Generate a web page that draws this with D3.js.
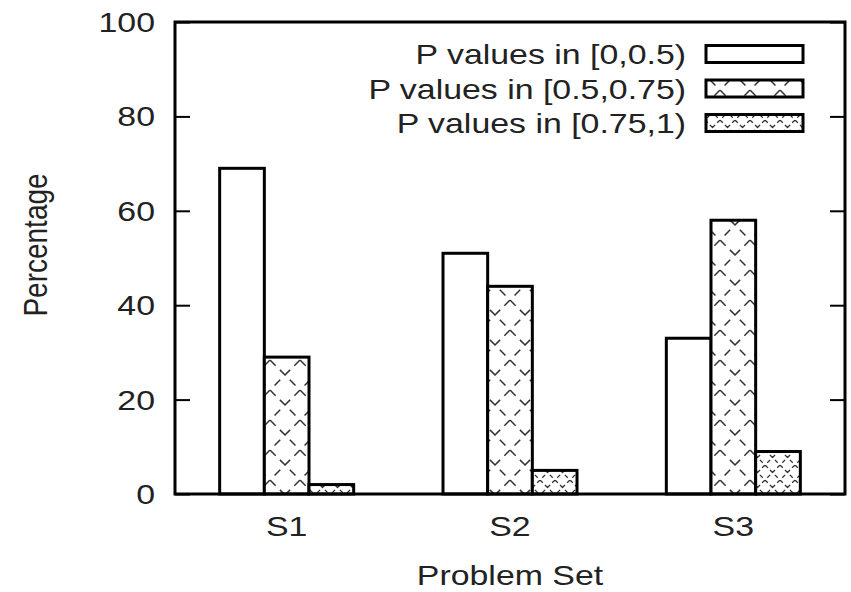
<!DOCTYPE html>
<html><head><meta charset="utf-8">
<script src="https://cdn.jsdelivr.net/npm/d3@7"></script>
<style>body{margin:0;background:#fff}</style>
</head><body>
<script>
const categories = ["S1","S2","S3"];
const seriesNames = ["P values in [0,0.5)","P values in [0.5,0.75)","P values in [0.75,1)"];
const low = [69,51,33];
const mid = [29,44,58];
const high = [2,5,9];
const yTicks = [0,20,40,60,80,100];
const series = [low, mid, high];

const W=851,H=592;
const m={left:175,right:6,top:22,bottom:98};
const svg=d3.select("body").append("svg").attr("width",W).attr("height",H);
const defs=svg.append("defs");
function mkPat(id,s,dash,w){
  const p=defs.append("pattern").attr("id",id).attr("patternUnits","userSpaceOnUse").attr("width",s).attr("height",s);
  p.append("rect").attr("width",s).attr("height",s).attr("fill","#fff");
  p.append("path").attr("d",`M0,0L${s},${s}M${s},0L0,${s}`).attr("stroke","#333").attr("stroke-width",w).attr("stroke-dasharray",dash).attr("fill","none");
}
mkPat("pA",30,"8,6",1.5);
mkPat("pB",15,"4,3",1.3);
const fills=["#fff","url(#pA)","url(#pB)"];

const x=d3.scaleLinear().domain([-0.5,2.5]).range([m.left,W-m.right]);
const y=d3.scaleLinear().domain([0,100]).range([H-m.bottom,m.top]);
const bw=0.2;
const font="'Liberation Sans', Arial, sans-serif";
const FS=28, SX=1.21;

function label(tx,ty,txt,anchor,rot){
  return svg.append("text")
    .attr("transform", rot ? `translate(${tx},${ty}) rotate(-90) scale(1,${SX})` : `translate(${tx},${ty}) scale(${SX},1)`)
    .attr("text-anchor",anchor).attr("font-family",font).attr("font-size",FS).attr("fill","#222").text(txt);
}

categories.forEach((c,i)=>{
  series.forEach((s,j)=>{
    const x0=x(i-0.3+j*bw), x1=x(i-0.3+(j+1)*bw);
    svg.append("rect").attr("x",x0).attr("y",y(s[i])).attr("width",x1-x0).attr("height",y(0)-y(s[i]))
      .attr("fill",fills[j]).attr("stroke","#000").attr("stroke-width",3);
  });
});

// y axis ticks (inward, mirrored)
const gy=svg.append("g").attr("transform",`translate(${m.left},0)`).call(d3.axisLeft(y).tickValues(yTicks).tickSize(-15).tickFormat(""));
gy.select(".domain").remove();
gy.selectAll("line").attr("stroke","#000").attr("stroke-width",2);
const gyr=svg.append("g").attr("transform",`translate(${W-m.right},0)`).call(d3.axisRight(y).tickValues(yTicks).tickSize(-15).tickFormat(""));
gyr.select(".domain").remove();
gyr.selectAll("line").attr("stroke","#000").attr("stroke-width",2);
yTicks.forEach(v=>label(155,y(v)+10,String(v),"end",false));
categories.forEach((c,i)=>label(x(i),536,c,"middle",false));

// frame
svg.append("rect").attr("x",m.left).attr("y",m.top).attr("width",W-m.right-m.left).attr("height",H-m.bottom-m.top)
  .attr("fill","none").attr("stroke","#000").attr("stroke-width",3);

// legend
seriesNames.forEach((n,j)=>{
  const cy=54+j*34.5;
  label(686,cy+10,n,"end",false);
  svg.append("rect").attr("x",706).attr("y",cy-8.5).attr("width",97).attr("height",17)
    .attr("fill",fills[j]).attr("stroke","#000").attr("stroke-width",3);
});

// titles
label(510,585,"Problem Set","middle",false);
label(47,245,"Percentage","middle",true);
</script>
</body></html>
